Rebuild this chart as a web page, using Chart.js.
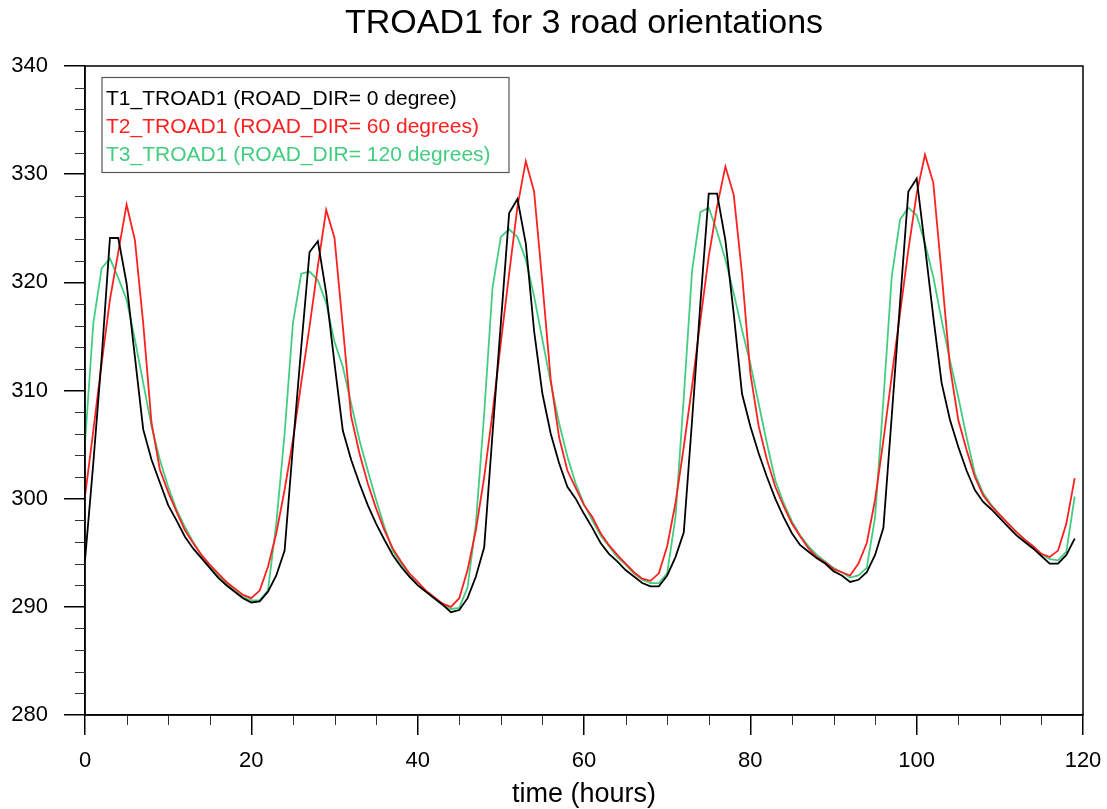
<!DOCTYPE html>
<html>
<head>
<meta charset="utf-8">
<script src="https://cdn.jsdelivr.net/npm/chart.js@4.4.1/dist/chart.umd.min.js"></script>
<style>
  html, body { margin: 0; padding: 0; background: #fff; }
  #wrap { width: 1107px; height: 809px; position: relative; }
</style>
</head>
<body>
<div id="wrap"><canvas id="chart"></canvas></div>
<script>
// hourly road surface temperature (K), hours 0..119
const hours = Array.from({ length: 120 }, (_, i) => i);

const t1Troad1 = [
  294.3, 303.3, 313.0, 324.1, 324.1, 319.9, 313.1, 306.4, 303.6, 301.5,
  299.4, 298.0, 296.5, 295.4, 294.5, 293.6, 292.7, 292.0, 291.4, 290.8,
  290.4, 290.5, 291.4, 292.9, 295.2, 304.8, 314.0, 322.8, 323.8, 319.0,
  312.5, 306.3, 303.6, 301.4, 299.4, 297.7, 296.2, 294.8, 293.7, 292.8,
  292.0, 291.4, 290.8, 290.2, 289.5, 289.7, 290.8, 292.8, 295.5, 306.0,
  316.2, 326.4, 327.7, 323.6, 315.5, 309.7, 306.0, 303.3, 301.1, 300.0,
  298.6, 297.3, 295.9, 294.9, 294.2, 293.4, 292.8, 292.2, 291.9, 291.9,
  292.9, 294.6, 296.9, 307.3, 318.1, 328.2, 328.2, 323.9, 317.1, 309.7,
  306.7, 304.2, 302.0, 300.0, 298.3, 296.8, 295.7, 295.1, 294.5, 294.0,
  293.3, 292.9, 292.3, 292.5, 293.2, 294.8, 297.3, 307.6, 318.1, 328.4,
  329.6, 323.3, 316.8, 310.7, 307.3, 304.8, 302.6, 300.8, 299.7, 299.0,
  298.2, 297.4, 296.6, 296.0, 295.4, 294.7, 294.0, 294.0, 294.8, 296.3
];

const t2Troad1 = [
  300.2, 306.3, 312.5, 318.4, 322.8, 327.2, 323.9, 316.2, 307.0, 302.7,
  300.6, 298.8, 297.1, 295.9, 294.8, 293.9, 293.1, 292.3, 291.7, 291.1,
  290.8, 291.5, 293.7, 296.8, 300.8, 305.4, 310.7, 315.9, 321.5, 326.7,
  324.1, 315.9, 307.6, 304.2, 301.4, 299.1, 297.1, 295.4, 294.2, 293.1,
  292.3, 291.5, 290.9, 290.3, 290.0, 290.8, 293.4, 297.1, 302.0, 307.9,
  314.4, 320.8, 327.0, 331.2, 328.4, 319.9, 311.0, 305.7, 302.6, 301.0,
  299.4, 298.3, 296.8, 295.7, 294.8, 294.0, 293.2, 292.6, 292.4, 293.1,
  295.6, 299.6, 304.8, 310.4, 316.5, 322.4, 327.0, 330.7, 328.1, 320.8,
  311.6, 306.7, 303.6, 301.1, 299.3, 297.7, 296.5, 295.4, 294.6, 294.1,
  293.5, 293.2, 292.9, 294.0, 295.9, 299.9, 305.4, 311.3, 317.1, 323.0,
  328.2, 331.8, 329.2, 320.8, 312.2, 307.3, 304.5, 302.0, 300.3, 299.3,
  298.5, 297.7, 296.9, 296.2, 295.6, 294.9, 294.6, 295.2, 297.7, 301.9
];

const t3Troad1 = [
  305.1, 316.2, 321.3, 322.2, 320.4, 318.4, 314.7, 310.7, 306.7, 303.6,
  301.1, 299.0, 297.4, 296.0, 294.8, 293.7, 292.9, 292.2, 291.5, 290.9,
  290.6, 290.6, 291.5, 297.7, 306.0, 316.2, 320.8, 321.0, 320.2, 318.1,
  314.5, 312.2, 308.8, 305.4, 302.6, 299.9, 297.4, 295.2, 294.0, 292.9,
  292.0, 291.4, 290.8, 290.2, 289.8, 289.9, 291.8, 297.7, 307.9, 319.5,
  324.2, 324.9, 324.2, 322.1, 318.7, 314.7, 310.7, 307.0, 303.9, 301.4,
  299.5, 298.0, 296.6, 295.6, 294.6, 293.9, 293.1, 292.5, 292.2, 292.2,
  293.1, 298.3, 309.4, 321.1, 326.5, 326.9, 324.7, 322.1, 319.0, 315.6,
  312.5, 308.8, 305.1, 301.7, 299.6, 297.9, 296.6, 295.6, 294.8, 294.2,
  293.6, 293.2, 292.7, 292.9, 293.6, 298.3, 309.1, 320.5, 325.8, 326.9,
  326.2, 323.6, 320.5, 316.5, 312.8, 309.4, 305.7, 302.3, 300.5, 299.4,
  298.5, 297.7, 296.9, 296.2, 295.6, 294.9, 294.4, 294.3, 295.1, 300.2
];

const seriesLabels = [
  'T1_TROAD1 (ROAD_DIR= 0 degree)',
  'T2_TROAD1 (ROAD_DIR= 60 degrees)',
  'T3_TROAD1 (ROAD_DIR= 120 degrees)'
];
const seriesColors = ['#000000', '#ff2020', '#43cd80'];
const seriesValues = [t1Troad1, t2Troad1, t3Troad1];

const FONT = "'Liberation Sans', Arial, Helvetica, sans-serif";

// minor ticks + frame + in-plot legend
const ncarStyle = {
  id: 'ncarStyle',
  afterDraw(chart) {
    const { ctx, chartArea: a, scales } = chart;
    ctx.save();
    ctx.strokeStyle = '#000';
    ctx.lineWidth = 1.5;
    ctx.strokeRect(a.left, a.top, a.right - a.left, a.bottom - a.top);

    ctx.lineWidth = 1;
    ctx.strokeStyle = '#333';
    ctx.beginPath();
    for (let v = 280; v <= 340; v += 2) {
      if (v % 10 === 0) continue;
      const y = Math.round(scales.y.getPixelForValue(v)) + 0.5;
      ctx.moveTo(a.left - 10, y);
      ctx.lineTo(a.left, y);
    }
    for (let v = 0; v <= 120; v += 5) {
      if (v % 20 === 0) continue;
      const x = Math.round(scales.x.getPixelForValue(v)) + 0.5;
      ctx.moveTo(x, a.bottom);
      ctx.lineTo(x, a.bottom + 10);
    }
    ctx.stroke();

    // legend box
    const bx = a.left + 17, by = a.top + 11.5;
    ctx.strokeStyle = '#555';
    ctx.lineWidth = 1.2;
    ctx.strokeRect(bx, by, 407, 95);
    ctx.font = '21px ' + FONT;
    ctx.textBaseline = 'middle';
    ctx.textAlign = 'left';
    seriesLabels.forEach((label, i) => {
      ctx.fillStyle = seriesColors[i];
      ctx.fillText(label, bx + 4, by + 22 + i * 27.8);
    });
    ctx.restore();
  }
};

new Chart(document.getElementById('chart'), {
  type: 'line',
  data: {
    labels: hours,
    datasets: seriesValues.map((vals, i) => ({
      label: seriesLabels[i],
      data: vals.map((v, k) => ({ x: hours[k], y: v })),
      borderColor: seriesColors[i],
      borderWidth: 1.8,
      pointRadius: 0,
      tension: 0,
      fill: false
    }))
  },
  options: {
    responsive: true,
    maintainAspectRatio: false,
    animation: false,
    layout: { padding: { left: 0, right: 24, top: 0, bottom: 0 } },
    plugins: {
      legend: { display: false },
      tooltip: { enabled: false },
      title: {
        display: true,
        fullSize: false,
        text: 'TROAD1 for 3 road orientations',
        color: '#000',
        font: { family: FONT, size: 34, weight: 'normal', lineHeight: 1.2 },
        padding: { top: 3, bottom: 22.2 }
      }
    },
    scales: {
      x: {
        type: 'linear',
        min: 0,
        max: 120,
        afterFit(scale) {
          scale.height = 94;
          scale.paddingLeft = 0;
          scale.paddingRight = 0;
        },
        ticks: {
          stepSize: 20,
          color: '#000',
          padding: 13,
          font: { family: FONT, size: 22 }
        },
        grid: {
          drawOnChartArea: false,
          drawTicks: true,
          tickLength: 20,
          color: '#000',
          lineWidth: 1.5
        },
        border: { display: true, color: '#000', width: 1.5 },
        title: {
          display: true,
          text: 'time (hours)',
          color: '#000',
          font: { family: FONT, size: 27, lineHeight: 1 },
          padding: { top: 0, bottom: 0.5 }
        }
      },
      y: {
        min: 280,
        max: 340,
        afterFit(scale) { scale.width = 85; },
        ticks: {
          stepSize: 10,
          color: '#000',
          padding: 16,
          font: { family: FONT, size: 22 }
        },
        grid: {
          drawOnChartArea: false,
          drawTicks: true,
          tickLength: 21,
          color: '#000',
          lineWidth: 1.5
        },
        border: { display: true, color: '#000', width: 1.5 }
      }
    }
  },
  plugins: [ncarStyle]
});
</script>
</body>
</html>
